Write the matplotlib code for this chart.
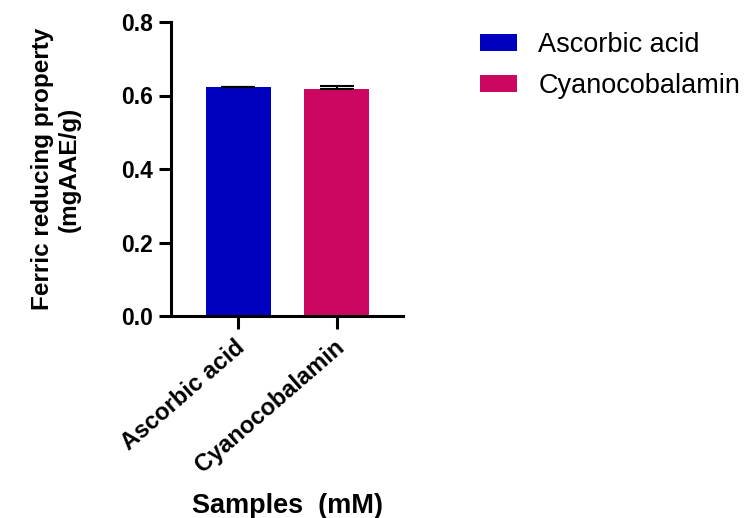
import matplotlib
matplotlib.use("Agg")
import matplotlib.pyplot as plt
import matplotlib.transforms as mtransforms
import numpy as np

plt.rcParams['font.family'] = ['Liberation Sans', 'DejaVu Sans']

samples = ['Ascorbic acid', 'Cyanocobalamin']
values = [0.622, 0.617]
errors = [0.002, 0.009]
colors = ['#0000BF', '#CC0762']

fig = plt.figure(figsize=(7.48, 5.18), dpi=100)
ax = fig.add_axes([171 / 748, 1 - 316 / 518, (403 - 171) / 748, (316 - 22) / 518])

x = np.arange(len(samples))
bars = ax.bar(x, values, width=0.66, color=colors, label=samples, zorder=2)
# upward error bars only
ax.errorbar(x, values, yerr=[np.zeros(len(errors)), errors], fmt='none',
            ecolor='black', elinewidth=1.5, capsize=12, capthick=1.5, zorder=3)

ax.set_xlim(-0.68, 1.67)
ax.set_ylim(0, 0.8)

for s in ['top', 'right']:
    ax.spines[s].set_visible(False)
for s in ['left', 'bottom']:
    ax.spines[s].set_linewidth(2.2)
ax.tick_params(axis='both', length=9, width=2.2)
ax.tick_params(axis='y', pad=4)
ax.tick_params(axis='x', pad=12)

ax.set_yticks([0.0, 0.2, 0.4, 0.6, 0.8])
ax.set_yticklabels(['0.0', '0.2', '0.4', '0.6', '0.8'], fontsize=16.5, fontweight='bold')
ax.set_xticks(x)
ax.set_xticklabels(samples, rotation=41, ha='right', va='center', rotation_mode='anchor',
                   fontsize=17, fontweight='bold')
shift = mtransforms.ScaledTranslation(0.04, 0.01, fig.dpi_scale_trans)
for lab in ax.get_xticklabels():
    lab.set_transform(lab.get_transform() + shift)

ax.set_ylabel('Ferric reducing property\n(mgAAE/g)', fontsize=17.5, fontweight='bold')
ax.yaxis.set_label_coords(-0.39, 0.5)
ax.set_xlabel('Samples  (mM)', fontsize=19.5, fontweight='bold')
ax.xaxis.set_label_coords(0.5, -0.602)

fig.legend(handles=bars, labels=samples, loc='upper left', bbox_to_anchor=(480 / 748, 1 - 32 / 518),
           frameon=False, fontsize=19.5, handlelength=1.35, handleheight=0.6,
           labelspacing=0.56, handletextpad=0.8, borderpad=0, borderaxespad=0)

fig.savefig('out.png', dpi=100)
